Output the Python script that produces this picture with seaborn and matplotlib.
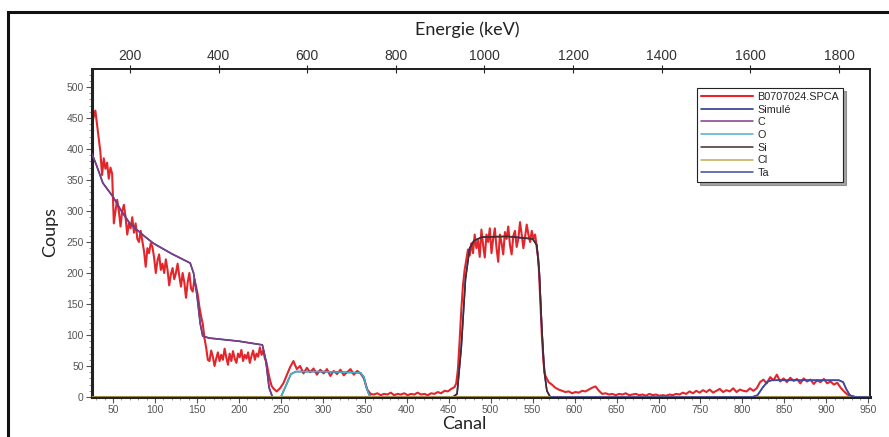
import numpy as np
import matplotlib
matplotlib.use("Agg")
import matplotlib.pyplot as plt
from matplotlib.patches import Rectangle
from matplotlib.ticker import MultipleLocator
import seaborn as sns

# spectre mesure, en segments (canal de depart, pas en canaux, coups)
# zone C (haut bruit) : un point tous les 2 canaux
seg_a_debut, seg_a_pas = 25, 2
seg_a_coups = [
    440, 452, 462, 440, 418, 395, 358, 385, 368, 378,   # 25-43
    352, 370, 360, 280, 300, 318, 300, 275, 300, 310,   # 45-63
    290, 262, 280, 272, 290, 265, 280, 255, 250, 268,   # 65-83
    252, 235, 210, 240, 232, 248, 242, 225, 200, 220,   # 85-103
    230, 205, 215, 200, 222, 205, 180, 198, 208, 190,   # 105-123
    200, 215, 195, 178, 200, 185, 160, 185, 200, 175,   # 125-143
    170, 190, 178, 165, 145, 130, 118, 95, 80, 60,      # 145-163
    58, 75, 65, 50, 62, 72, 58, 68, 60, 78,             # 165-183
    64, 52, 70, 58, 74, 62, 55, 70, 64, 76,             # 185-203
    58, 68, 62, 72, 55, 66, 75, 60, 70, 65,             # 205-223
    80, 68, 75, 62, 55, 40, 28, 18, 14,                 # 225-241
]
# zone O et fond : un point tous les 4 canaux
seg_b_debut, seg_b_pas = 245, 4
seg_b_coups = [
    9, 14, 22, 35, 48, 58, 45, 50, 38, 47,              # 245-281
    40, 46, 36, 44, 38, 45, 34, 42, 37, 44,             # 285-321
    35, 40, 45, 36, 42, 38, 30, 12, 5, 4,               # 325-361
    6, 3, 5, 4, 7, 3, 5, 4, 6, 3,                       # 365-401
    5, 4, 7, 4, 5, 3, 6, 5, 8, 6,                       # 405-441
    10, 9, 13, 16,                                      # 445-457
]
# pic principal : un point tous les 2 canaux
seg_c_debut, seg_c_pas = 459, 2
seg_c_coups = [
    22, 45, 90, 140, 180, 205, 222, 238, 228, 248,      # 459-477
    232, 262, 240, 252, 226, 270, 245, 225, 262, 250,   # 479-497
    272, 232, 255, 272, 240, 218, 262, 248, 230, 266,   # 499-517
    255, 275, 245, 230, 260, 268, 242, 255, 282, 262,   # 519-537
    240, 258, 278, 262, 250, 268, 255, 262, 240, 220,   # 539-557
    160, 100, 55, 35,                                   # 559-565
]
# fin du spectre : un point tous les 4 canaux
seg_d_debut, seg_d_pas = 569, 4
seg_d_coups = [
    24, 20, 15, 12,                                     # 569-581
    10, 8, 9, 6, 8, 7, 10, 9, 12, 15,                   # 585-621
    17, 10, 5, 6, 4, 5, 3, 5, 4, 6,                     # 625-661
    3, 4, 5, 3, 4, 2, 5, 3, 4, 2,                       # 665-701
    3, 2, 4, 3, 5, 4, 7, 5, 9, 6,                       # 705-741
    10, 7, 11, 8, 12, 7, 10, 13, 8, 11,                 # 745-781
    9, 14, 8, 12, 10, 9, 14, 10, 14, 24,                # 785-821
    28, 22, 32, 27, 36, 25, 30, 24, 31, 26,             # 825-861
    29, 22, 30, 25, 28, 21, 27, 24, 29, 22,             # 865-901
    25, 20, 23, 15, 9, 4, 2, 1,                         # 905-933
]

# composantes simulees
c_canal = [25, 30, 38, 50, 60, 70, 85, 98, 120, 142, 146, 150, 154, 157, 165, 200, 228, 232, 236, 240]
c_coups = [392, 375, 345, 323, 300, 280, 262, 248, 231, 216, 200, 165, 118, 98, 95, 90, 84, 60, 15, 0]

o_canal = [240, 250, 256, 262, 268, 300, 345, 349, 352, 355, 358]
o_coups = [0, 0, 18, 37, 41, 41, 39, 32, 15, 4, 0]

si_canal = [455, 460, 465, 470, 475, 480, 490, 520, 550, 555, 558, 561, 564, 567, 571]
si_coups = [0, 5, 80, 190, 240, 252, 258, 259, 255, 245, 200, 110, 40, 10, 0]

cl_canal = [25, 952]
cl_coups = [0, 0]

ta_canal = [571, 812, 818, 824, 830, 835, 915, 920, 924, 928, 931, 952]
ta_coups = [0, 0, 3, 15, 25, 27, 27, 24, 12, 3, 0, 0]

couleurs = {
    "B0707024.SPCA": "#e3262b",
    "Simulé": "#2e3a8c",
    "C": "#7e3d85",
    "O": "#49b3c3",
    "Si": "#4a2a2a",
    "Cl": "#c2ab4e",
    "Ta": "#3f4aa6",
}

# calibration canal -> energie
pente = 1.894
origine = 66.9


def canal_vers_energie(c):
    return pente * np.asarray(c) + origine


def energie_vers_canal(e):
    return (np.asarray(e) - origine) / pente


def canaux_segment(debut, pas, valeurs):
    return debut + pas * np.arange(len(valeurs))


sns.set_theme(style="white")
plt.rcParams["font.family"] = ["Liberation Sans", "DejaVu Sans"]

fig = plt.figure(figsize=(8.89, 4.37), dpi=100)
ax = fig.add_axes([92 / 889, 1 - 397 / 437, 778 / 889, 328 / 437])

canaux = np.concatenate([
    canaux_segment(seg_a_debut, seg_a_pas, seg_a_coups),
    canaux_segment(seg_b_debut, seg_b_pas, seg_b_coups),
    canaux_segment(seg_c_debut, seg_c_pas, seg_c_coups),
    canaux_segment(seg_d_debut, seg_d_pas, seg_d_coups),
])
coups = seg_a_coups + seg_b_coups + seg_c_coups + seg_d_coups
sns.lineplot(x=canaux, y=coups, ax=ax, color=couleurs["B0707024.SPCA"],
             linewidth=1.5, label="B0707024.SPCA", zorder=2)

# somme simulee = enchainement des composantes
sim_canal = c_canal + o_canal[1:] + [400] + si_canal + ta_canal[1:]
sim_coups = c_coups + o_coups[1:] + [0] + si_coups + ta_coups[1:]
sns.lineplot(x=sim_canal, y=sim_coups, ax=ax, color=couleurs["Simulé"],
             linewidth=1.2, label="Simulé", zorder=3)

for nom, xs, ys in [("C", c_canal, c_coups), ("O", o_canal, o_coups),
                    ("Si", si_canal, si_coups), ("Cl", cl_canal, cl_coups),
                    ("Ta", ta_canal, ta_coups)]:
    sns.lineplot(x=xs, y=ys, ax=ax, color=couleurs[nom], linewidth=1.1,
                 label=nom, zorder=4)

ax.set_xlim(25, 952)
ax.set_ylim(0, 529)
ax.xaxis.set_major_locator(MultipleLocator(50))
ax.xaxis.set_minor_locator(MultipleLocator(10))
ax.yaxis.set_major_locator(MultipleLocator(50))
ax.yaxis.set_minor_locator(MultipleLocator(10))
ax.tick_params(axis="both", which="major", direction="out", length=4, width=0.8,
               color="#555555", labelsize=7.5, labelcolor="#555555", pad=2,
               bottom=True, left=True)
ax.tick_params(axis="both", which="minor", direction="out", length=2, width=0.6,
               color="#888888", bottom=True, left=True)
ax.set_xlabel("")
ax.set_ylabel("")
for s in ax.spines.values():
    s.set_color("#222222")
    s.set_linewidth(1.4)
ax.spines["left"].set_linewidth(2.2)
ax.spines["bottom"].set_linewidth(2.2)
ax.grid(False)

haut = ax.secondary_xaxis("top", functions=(canal_vers_energie, energie_vers_canal))
haut.set_xticks(np.arange(200, 1801, 200))
haut.tick_params(direction="inout", length=6, width=0.8, labelsize=10,
                 labelcolor="#333333", pad=1)
for lab in haut.get_xticklabels():
    lab.set_family(["Liberation Sans Narrow", "Liberation Sans"])

police_titre = ["Lato", "DejaVu Sans"]
fig.text(467 / 889, 1 - 30 / 437, "Energie (keV)", ha="center", va="center",
         fontsize=13, family=police_titre, color="#222222")
fig.text(464 / 889, 1 - 424 / 437, "Canal", ha="center", va="center",
         fontsize=13, family=police_titre, color="#222222")
fig.text(50 / 889, 1 - 232 / 437, "Coups", ha="center", va="center",
         rotation=90, fontsize=13, family=police_titre, color="#222222")

leg = ax.legend(loc="upper left", bbox_to_anchor=(0.778, 0.942), fontsize=7.8,
                handlelength=4.8, labelspacing=0.25, borderpad=0.35,
                handletextpad=0.4, frameon=True, fancybox=False, shadow=True,
                borderaxespad=0)
leg.get_frame().set_edgecolor("#222222")
leg.get_frame().set_linewidth(0.8)

# cadre exterieur
fig.patches.append(Rectangle((8 / 889, -0.1), 1.2, 1 - 12 / 437 + 0.1,
                             transform=fig.transFigure, fill=False,
                             edgecolor="#111111", linewidth=2.2))

fig.savefig("out.png", dpi=100)
